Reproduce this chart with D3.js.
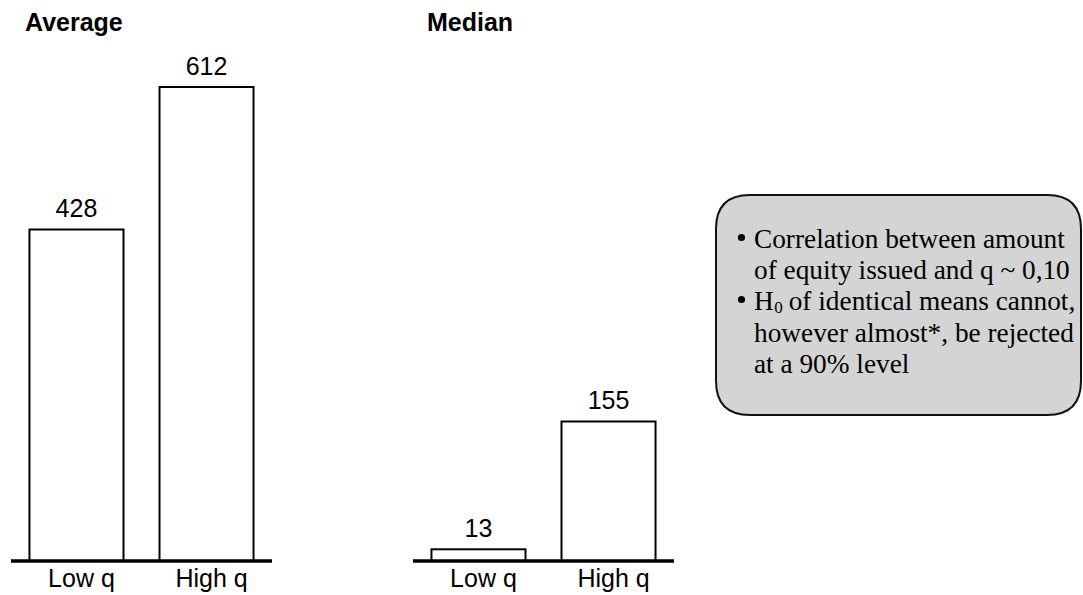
<!DOCTYPE html>
<html>
<head>
<meta charset="utf-8">
<script src="https://cdn.jsdelivr.net/npm/d3@7/dist/d3.min.js"></script>
<style>
  html, body { margin: 0; padding: 0; background: #ffffff; }
  svg { display: block; }
</style>
</head>
<body>
<svg id="chart" width="1083" height="595"></svg>
<script>
// ---- data ----
const categories = ["Low q", "High q"];
const averageValues = [428, 612];
const medianValues = [13, 155];
const panelTitles = ["Average", "Median"];
const noteLines = [
  { bullet: true,  main: "Correlation between amount" },
  { bullet: false, main: "of equity issued and q ~ 0,10" },
  { bullet: true,  main: "H", sub: "0", rest: "of identical means cannot," },
  { bullet: false, main: "however almost*, be rejected" },
  { bullet: false, main: "at a 90% level" }
];

const svg = d3.select("#chart");
const baseY = 561;

function panel(cfg) {
  const g = svg.append("g");
  const x = d3.scaleBand()
    .domain(categories)
    .range([cfg.x0, cfg.x1])
    .paddingInner(0.277)
    .paddingOuter(0.142);
  const y = d3.scaleLinear().domain(cfg.domain).range([baseY, cfg.topY]);

  g.append("text")
    .attr("x", cfg.titleX).attr("y", 31)
    .attr("font-family", "Liberation Sans, Arial, sans-serif")
    .attr("font-weight", "bold").attr("font-size", 25)
    .attr("fill", "#000")
    .text(cfg.title);

  g.selectAll("rect.bar").data(cfg.values).join("rect")
    .attr("class", "bar")
    .attr("x", (d, i) => x(categories[i]))
    .attr("y", d => y(d))
    .attr("width", x.bandwidth())
    .attr("height", d => baseY - y(d))
    .attr("fill", "#fff")
    .attr("stroke", "#000")
    .attr("stroke-width", 2);

  g.selectAll("text.val").data(cfg.values).join("text")
    .attr("class", "val")
    .attr("x", (d, i) => x(categories[i]) + x.bandwidth() / 2)
    .attr("y", d => y(d) - 12.5)
    .attr("text-anchor", "middle")
    .attr("font-family", "Liberation Sans, Arial, sans-serif")
    .attr("font-size", 25)
    .attr("fill", "#000")
    .text(d => d);

  g.append("line")
    .attr("x1", cfg.x0).attr("x2", cfg.x1)
    .attr("y1", baseY).attr("y2", baseY)
    .attr("stroke", "#000").attr("stroke-width", 3.5);

  g.selectAll("text.cat").data(categories).join("text")
    .attr("class", "cat")
    .attr("x", d => x(d) + x.bandwidth() / 2 + 5)
    .attr("y", 587)
    .attr("text-anchor", "middle")
    .attr("font-family", "Liberation Sans, Arial, sans-serif")
    .attr("font-size", 25)
    .attr("fill", "#000")
    .text(d => d);
}

panel({ x0: 11, x1: 272, domain: [0, 612], topY: 87, values: averageValues, title: panelTitles[0], titleX: 25 });
panel({ x0: 413, x1: 674, domain: [0, 155], topY: 421.5, values: medianValues, title: panelTitles[1], titleX: 427 });

// ---- callout box ----
const bx0 = 716, by0 = 195, bx1 = 1081, by1 = 415, r = 34;
const path = d3.path();
path.moveTo(bx0 + r, by0);
path.lineTo(bx1 - r, by0);
path.quadraticCurveTo(bx1, by0, bx1, by0 + r);
path.lineTo(bx1, by1 - r);
path.quadraticCurveTo(bx1, by1, bx1 - r, by1);
path.lineTo(bx0 + r, by1);
path.quadraticCurveTo(bx0, by1, bx0, by1 - r);
path.lineTo(bx0, by0 + r);
path.quadraticCurveTo(bx0, by0, bx0 + r, by0);
path.closePath();
svg.append("path")
  .attr("d", path.toString())
  .attr("fill", "#d4d4d4")
  .attr("stroke", "#111")
  .attr("stroke-width", 2);

const tg = svg.append("g")
  .attr("font-family", "Liberation Serif, Times New Roman, serif")
  .attr("fill", "#000");
const lineBaselines = [248, 279, 310, 341.5, 372.5];
noteLines.forEach((ln, i) => {
  const yy = lineBaselines[i];
  if (ln.bullet) {
    tg.append("circle")
      .attr("cx", 741.5).attr("cy", yy - 10.5).attr("r", 3.6)
      .attr("fill", "#000");
  }
  const t = tg.append("text").attr("x", 754).attr("y", yy)
    .attr("font-size", 27.3).text(ln.main);
  if (ln.sub) {
    const w = t.node().getComputedTextLength();
    const s = tg.append("text").attr("x", 754 + w + 0.5).attr("y", yy + 3)
      .attr("font-size", 17).text(ln.sub);
    const ws = s.node().getComputedTextLength();
    tg.append("text").attr("x", 754 + w + 0.5 + ws + 6).attr("y", yy)
      .attr("font-size", 27.3).text(ln.rest);
  }
});
</script>
</body>
</html>
